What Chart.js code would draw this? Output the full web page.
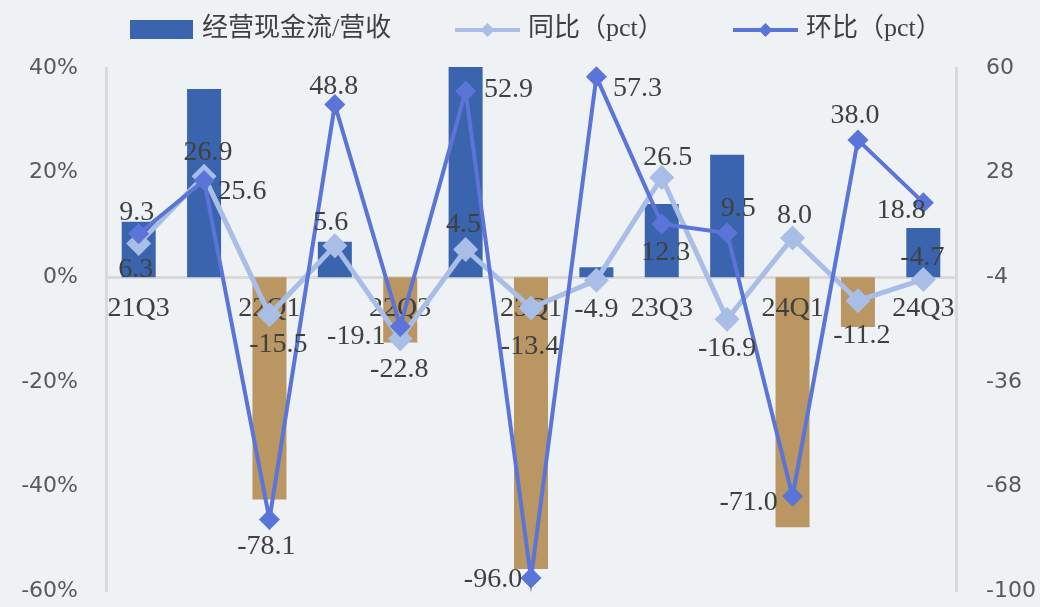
<!DOCTYPE html>
<html>
<head>
<meta charset="utf-8">
<script src="https://cdn.jsdelivr.net/npm/chart.js@4.4.1/dist/chart.umd.min.js"></script>
<style>
html,body{margin:0;padding:0;background:#EEF2F4;}
#wrap{width:1040px;height:607px;position:relative;}
canvas{display:block;}
</style>
</head>
<body>
<div id="wrap"><canvas id="c" width="1040" height="607"></canvas></div>
<script>
// ---------- data ----------
const categories = ['21Q3','21Q4','22Q1','22Q2','22Q3','22Q4','23Q1','23Q2','23Q3','23Q4','24Q1','24Q2','24Q3'];
const cashFlowToRevenue = [10.6, 36.0, -42.5, 6.8, -12.5, 40.2, -55.8, 1.9, 14.0, 23.4, -47.8, -9.5, 9.4];
const yoyPct = [6.3, 26.9, -15.5, 5.6, -22.8, 4.5, -13.4, -4.9, 26.5, -16.9, 8.0, -11.2, -4.7];
const qoqPct = [9.3, 25.6, -78.1, 48.8, -19.1, 52.9, -96.0, 57.3, 12.3, 9.5, -71.0, 38.0, 18.8];
const leftTicks = [-60, -40, -20, 0, 20, 40];
const rightTicks = [-100, -68, -36, -4, 28, 60];
const seriesNames = ['经营现金流/营收', '同比（pct）', '环比（pct）'];

// ---------- style ----------
const BG = '#EEF2F4';
const BAR_POS = '#3A64AE';
const BAR_NEG = '#B99662';
const LINE_YOY = '#A9BEE6';
const LINE_QOQ = '#5B74D8';
const AXIS = '#D9D9D9';
const TEXT = '#404040';
const TICK_TEXT = '#595959';
const SERIF = '"Liberation Serif", "Noto Sans CJK SC", serif';
const LABEL_SIZE = 28;
// data-label offsets from each marker (dx, dy) – placement style only
const yoyLabelOffsets = [[-3,24],[4,-25],[9,28],[-4,-25],[-1,29],[-2,-27],[-1,37],[0,28],[6,-22],[0,27],[2,-24],[4,33],[-1,-24]];
const qoqLabelOffsets = [[-2,-23],[38,9],[-3,25],[-1,-20],[-44,8],[43,-3],[-38,0],[41,10],[4,27],[11,-26],[-44,5],[-3,-26],[-22,6]];

const bgPlugin = {
  id: 'bg',
  beforeDraw(chart) {
    const ctx = chart.ctx;
    ctx.save();
    ctx.fillStyle = BG;
    ctx.fillRect(0, 0, chart.width, chart.height);
    ctx.restore();
  }
};

// draw the category axis labels between the bars and the lines (as in the source)
const axisLabelLayerPlugin = {
  id: 'axisLabelLayer',
  afterUpdate(chart) {
    const s = chart.scales.x;
    if (s && !s._origDrawLabels) {
      s._origDrawLabels = s.drawLabels;
      s.drawLabels = function () {};
    }
  },
  afterDatasetDraw(chart, args) {
    if (args.index === 0) {
      const s = chart.scales.x;
      if (s && s._origDrawLabels) s._origDrawLabels.call(s, chart.chartArea);
    }
  }
};

const labelPlugin = {
  id: 'pointLabels',
  afterDatasetsDraw(chart) {
    const ctx = chart.ctx;
    ctx.save();
    ctx.font = LABEL_SIZE + 'px ' + SERIF;
    ctx.fillStyle = TEXT;
    ctx.textAlign = 'center';
    ctx.textBaseline = 'alphabetic';
    [[1, yoyLabelOffsets], [2, qoqLabelOffsets]].forEach(([di, offs]) => {
      const meta = chart.getDatasetMeta(di);
      const data = chart.data.datasets[di].data;
      meta.data.forEach((pt, i) => {
        const o = offs[i];
        ctx.fillText(data[i].toFixed(1), pt.x + o[0], pt.y + o[1] + LABEL_SIZE * 0.33);
      });
    });
    ctx.restore();
  }
};

const legendPlugin = {
  id: 'customLegend',
  afterDraw(chart) {
    const ctx = chart.ctx;
    const ds = chart.data.datasets;
    const cy = 29;
    ctx.save();
    ctx.font = '26px ' + SERIF;
    ctx.textBaseline = 'middle';
    ctx.textAlign = 'left';
    ctx.fillStyle = BAR_POS;
    ctx.fillRect(130, 20, 63, 19);
    ctx.fillStyle = TEXT;
    ctx.fillText(ds[0].label, 202, cy);
    const items = [[455, ds[1]], [733, ds[2]]];
    items.forEach(([x0, d]) => {
      ctx.strokeStyle = d.borderColor;
      ctx.lineWidth = 4;
      ctx.beginPath();
      ctx.moveTo(x0, cy + 1);
      ctx.lineTo(x0 + 65, cy + 1);
      ctx.stroke();
      const cx = x0 + 32.5, r = 7;
      ctx.fillStyle = d.backgroundColor;
      ctx.beginPath();
      ctx.moveTo(cx - r, cy + 1);
      ctx.lineTo(cx, cy + 1 - r);
      ctx.lineTo(cx + r, cy + 1);
      ctx.lineTo(cx, cy + 1 + r);
      ctx.closePath();
      ctx.fill();
      ctx.fillStyle = TEXT;
      ctx.fillText(d.label, x0 + 73, cy);
    });
    ctx.restore();
  }
};

const tickFont = { family: '"DejaVu Sans", "Noto Sans", sans-serif', size: 22 };

new Chart(document.getElementById('c'), {
  type: 'bar',
  data: {
    labels: categories,
    datasets: [
      {
        type: 'bar',
        label: seriesNames[0],
        data: cashFlowToRevenue,
        yAxisID: 'y',
        backgroundColor: ctx => (ctx.raw >= 0 ? BAR_POS : BAR_NEG),
        borderWidth: 0,
        barPercentage: 0.52,
        categoryPercentage: 1,
        clip: false,
        order: 3
      },
      {
        type: 'line',
        label: seriesNames[1],
        data: yoyPct,
        yAxisID: 'y1',
        borderColor: LINE_YOY,
        backgroundColor: LINE_YOY,
        borderWidth: 5,
        pointStyle: 'rectRot',
        pointRadius: 12.5,
        pointBorderWidth: 0,
        pointHoverRadius: 12.5,
        tension: 0,
        clip: false,
        order: 2
      },
      {
        type: 'line',
        label: seriesNames[2],
        data: qoqPct,
        yAxisID: 'y1',
        borderColor: LINE_QOQ,
        backgroundColor: LINE_QOQ,
        borderWidth: 4,
        pointStyle: 'rectRot',
        pointRadius: 10.5,
        pointBorderWidth: 0,
        pointHoverRadius: 10.5,
        tension: 0,
        clip: false,
        order: 1
      }
    ]
  },
  options: {
    responsive: false,
    animation: false,
    devicePixelRatio: 1,
    layout: { padding: { top: 68, bottom: 16, left: 0, right: 0 } },
    plugins: {
      legend: { display: false },
      tooltip: { enabled: false }
    },
    scales: {
      x: {
        type: 'category',
        position: { y: 0 },
        offset: true,
        afterFit: s => { s.height = 0; },
        grid: { display: false, drawTicks: false },
        border: { display: true, color: AXIS, width: 3 },
        ticks: {
          autoSkip: false,
          maxRotation: 0,
          minRotation: 0,
          padding: 15,
          color: TEXT,
          font: { family: SERIF, size: LABEL_SIZE },
          callback: (v, i) => (i % 2 === 0 ? categories[i] : '')
        }
      },
      y: {
        position: 'left',
        min: -60,
        max: 40,
        afterBuildTicks: s => { s.ticks = leftTicks.map(v => ({ value: v })); },
        afterFit: s => { s.width = 106; s.paddingTop = 13; s.paddingBottom = 13; },
        grid: { display: false, drawTicks: false },
        border: { display: true, color: AXIS, width: 3 },
        ticks: { padding: 28, color: TICK_TEXT, font: tickFont, callback: v => v + '%' }
      },
      y1: {
        position: 'right',
        min: -100,
        max: 60,
        afterBuildTicks: s => { s.ticks = rightTicks.map(v => ({ value: v })); },
        afterFit: s => { s.width = 84; s.paddingTop = 13; s.paddingBottom = 13; },
        grid: { display: false, drawTicks: false },
        border: { display: true, color: AXIS, width: 3 },
        ticks: { padding: 30, color: TICK_TEXT, font: tickFont, callback: v => String(v) }
      }
    }
  },
  plugins: [bgPlugin, axisLabelLayerPlugin, labelPlugin, legendPlugin]
});
</script>
</body>
</html>
